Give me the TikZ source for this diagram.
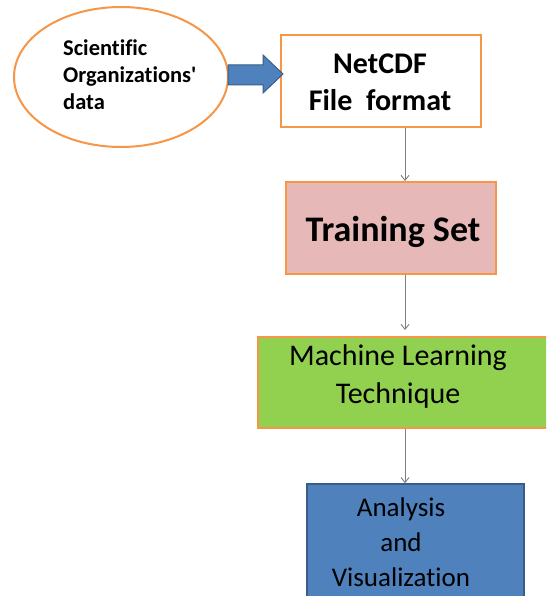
\documentclass[tikz,border=0pt]{standalone}
\usepackage{fontspec}
\setmainfont{Carlito}[Ligatures=NoCommon]
\usetikzlibrary{arrows.meta,shapes.geometric}
\definecolor{orangeB}{HTML}{F79646}
\definecolor{pinkF}{HTML}{E6B9B8}
\definecolor{greenF}{HTML}{92D050}
\definecolor{blueF}{HTML}{4F81BD}
\definecolor{blueB}{HTML}{385D8A}
\definecolor{arrowG}{HTML}{7F7F7F}
\tikzset{
  box/.style={draw=orangeB, line width=2pt, rectangle, inner sep=0pt},
  flow/.style={draw=arrowG, line width=0.9pt, -{Straight Barb[length=5pt,width=8pt]}},
  txt/.style={inner sep=0pt, align=center}
}
\begin{document}
\begin{tikzpicture}[x=1pt,y=-1pt]
\clip (0,0) rectangle (546,596);
\fill[white] (0,0) rectangle (546,596);
% ellipse
\node[ellipse, draw=orangeB, line width=2pt, fill=white, minimum width=214pt, minimum height=140pt, inner sep=0pt] (src) at (121,77) {};
\node[inner sep=0pt, anchor=west, align=left, font=\bfseries\fontsize{22.5}{27}\selectfont] (srct) at (63,75) {Scientific\\Organizations\textquotesingle\\data};
% boxes
\node[box, fill=white, minimum width=200pt, minimum height=92pt] (net) at (381,81) {};
\node[txt, font=\bfseries\fontsize{30}{37}\selectfont] (nett) at (380,82) {NetCDF\\File\ \ format};
\node[box, fill=pinkF, minimum width=210pt, minimum height=92pt] (train) at (391,228) {};
\node[txt, font=\bfseries\fontsize{36}{40}\selectfont] (traint) at (393,232) {Training Set};
\node[box, fill=greenF, minimum width=300pt, minimum height=91pt] (ml) at (408,382.5) {};
\node[txt, font=\fontsize{30}{38}\selectfont] (mlt) at (398,376) {Machine Learning\\Technique};
\node[draw=blueB, line width=1.5pt, fill=blueF, rectangle, inner sep=0pt, minimum width=217pt, minimum height=140pt] (ana) at (415.5,554) {};
\node[txt, font=\fontsize{27}{35}\selectfont] (anat) at (401,542) {Analysis\\and\\Visualization};
% block arrow
\coordinate (ba) at (228,75);
\fill[blueF, draw=blueB, line width=1pt] (ba) ++(0,-10) -- ++(35,0) -- ++(0,-10) -- (283,74) -- (263,93) -- (263,85) -- (228,85) -- cycle;
% connectors
\draw[flow] (net.south -| 405,0) -- (train.north -| 405,0);
\draw[flow] (train.south -| 405,0) -- (405,330);
\draw[flow] (ml.south -| 405,0) -- (ana.north -| 405,0);
\end{tikzpicture}
\end{document}
